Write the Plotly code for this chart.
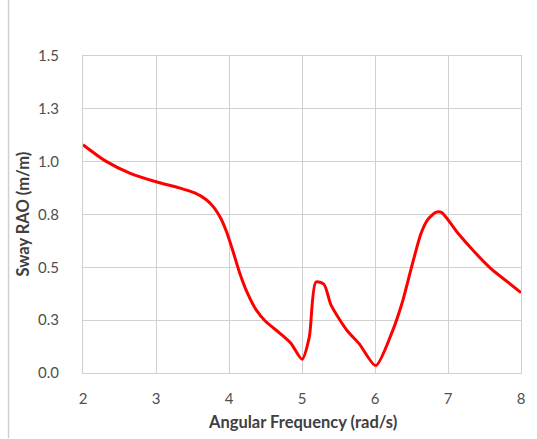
import plotly.graph_objects as go

# Sway response amplitude operator vs wave angular frequency
freq = [2.0, 2.3, 2.64, 3.0, 3.32, 3.53, 3.69, 3.8, 3.89, 3.97, 4.06, 4.15, 4.25, 4.37, 4.5,
        4.69, 4.85, 5.0, 5.1, 5.19, 5.3, 5.4, 5.62, 5.78, 6.01, 6.23, 6.37,
        6.5, 6.63, 6.72, 6.83, 6.91, 7.14, 7.37, 7.6, 7.82, 8.0]
sway_rao = [1.08, 1.005, 0.946, 0.905, 0.876, 0.852, 0.82, 0.78, 0.73, 0.665, 0.57, 0.47, 0.38, 0.30, 0.245,
            0.19, 0.14, 0.065, 0.17, 0.43, 0.42, 0.32, 0.20, 0.14, 0.035, 0.19, 0.33,
            0.50, 0.66, 0.725, 0.76, 0.76, 0.66, 0.57, 0.49, 0.43, 0.38]

x_ticks = [2, 3, 4, 5, 6, 7, 8]
y_ticks = [0.0, 0.25, 0.5, 0.75, 1.0, 1.25, 1.5]
y_tick_labels = ["0.0", "0.3", "0.5", "0.8", "1.0", "1.3", "1.5"]

grid = "#d0d0d0"
text_col = "#4f4f4f"
font_family = "Lato, 'Open Sans', sans-serif"

fig = go.Figure()
fig.add_trace(go.Scatter(
    x=freq, y=sway_rao, mode="lines",
    line=dict(color="#ff0000", width=3, shape="spline", smoothing=0.7),
    showlegend=False, hoverinfo="skip",
))

fig.update_layout(
    width=537, height=439,
    margin=dict(l=83, r=14, t=56, b=66),
    paper_bgcolor="white", plot_bgcolor="white",
    font=dict(family=font_family, size=15, color=text_col),
    xaxis=dict(
        range=[2, 8], tickvals=x_ticks, ticktext=[str(v) for v in x_ticks],
        showgrid=True, gridcolor=grid, gridwidth=1,
        showline=True, linecolor=grid, linewidth=1, mirror=True,
        ticks="", zeroline=False, ticklabelstandoff=12,
    ),
    yaxis=dict(
        range=[0, 1.5], tickvals=y_ticks, ticktext=y_tick_labels,
        showgrid=True, gridcolor=grid, gridwidth=1,
        showline=True, linecolor=grid, linewidth=1, mirror=True,
        ticks="", zeroline=False, ticklabelstandoff=20,
    ),
    annotations=[
        dict(text="<b>Angular Frequency (rad/s)</b>", xref="paper", yref="paper",
             x=0.5, y=-0.155, xanchor="center", yanchor="middle", showarrow=False,
             font=dict(size=16.5, color="#404040", family=font_family)),
        dict(text="<b>Sway RAO (m/m)</b>", xref="paper", yref="paper",
             x=-0.139, y=0.5, xanchor="center", yanchor="middle", showarrow=False,
             textangle=-90, font=dict(size=16.5, color="#404040", family=font_family)),
    ],
    shapes=[
        dict(type="line", xref="paper", yref="paper", x0=-0.170, x1=-0.170,
             y0=-0.205, y1=1.18, line=dict(color="#d0d0d0", width=1.5)),
    ],
)

fig.write_html("out.html")
